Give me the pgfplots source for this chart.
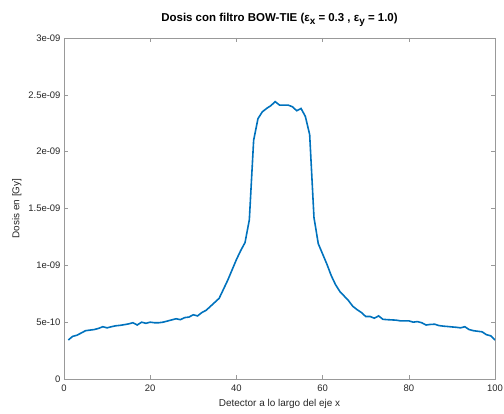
\documentclass[border=0pt]{standalone}
\usepackage{pgfplots}
\pgfplotsset{compat=1.18}
\usepackage{fontspec}
\setmainfont{Liberation Sans}
\definecolor{mblue}{rgb}{0,0.447,0.741}
\definecolor{axgray}{gray}{0.6}
\definecolor{txtgray}{gray}{0.15}

\pgfplotstableread{
x y
1 3.43e-10
2 3.75e-10
3 3.85e-10
4 4.05e-10
5 4.25e-10
6 4.30e-10
7 4.35e-10
8 4.45e-10
9 4.60e-10
10 4.50e-10
11 4.60e-10
12 4.68e-10
13 4.72e-10
14 4.78e-10
15 4.85e-10
16 4.95e-10
17 4.75e-10
18 5.00e-10
19 4.90e-10
20 5.00e-10
21 4.95e-10
22 4.95e-10
23 5.00e-10
24 5.10e-10
25 5.20e-10
26 5.30e-10
27 5.22e-10
28 5.40e-10
29 5.45e-10
30 5.65e-10
31 5.55e-10
32 5.85e-10
33 6.05e-10
34 6.40e-10
35 6.75e-10
36 7.10e-10
37 7.90e-10
38 8.70e-10
39 9.60e-10
40 10.5e-10
41 11.3e-10
42 12.0e-10
43 14.0e-10
44 21.0e-10
45 22.9e-10
46 23.5e-10
47 23.8e-10
48 24.05e-10
49 24.4e-10
50 24.1e-10
51 24.1e-10
52 24.1e-10
53 23.95e-10
54 23.6e-10
55 23.8e-10
56 23.1e-10
57 21.5e-10
58 14.2e-10
59 11.9e-10
60 11.0e-10
61 10.1e-10
62 9.10e-10
63 8.30e-10
64 7.70e-10
65 7.30e-10
66 6.90e-10
67 6.40e-10
68 6.10e-10
69 5.85e-10
70 5.50e-10
71 5.50e-10
72 5.35e-10
73 5.55e-10
74 5.25e-10
75 5.22e-10
76 5.20e-10
77 5.18e-10
78 5.12e-10
79 5.12e-10
80 5.12e-10
81 5.00e-10
82 5.05e-10
83 4.95e-10
84 4.75e-10
85 4.80e-10
86 4.82e-10
87 4.70e-10
88 4.65e-10
89 4.62e-10
90 4.58e-10
91 4.55e-10
92 4.50e-10
93 4.60e-10
94 4.35e-10
95 4.25e-10
96 4.20e-10
97 4.15e-10
98 3.90e-10
99 3.80e-10
100 3.43e-10
}\dosis

\begin{document}
\begin{tikzpicture}
\path[use as bounding box] (-64bp,-35bp) rectangle (440bp,379bp);
\begin{axis}[
    at={(0,0)}, anchor=south west,
    scale only axis,
    width=431bp, height=341bp,
    xmin=0, xmax=100,
    ymin=0, ymax=3e-9,
    xtick={0,20,...,100},
    ytick={0,5e-10,1e-9,1.5e-9,2e-9,2.5e-9,3e-9},
    yticklabels={0,5e-10,1e-09,1.5e-09,2e-09,2.5e-09,3e-09},
    scaled y ticks=false,
    tick pos=both,
    tick align=inside,
    major tick length=4bp,
    axis line style={axgray},
    every tick/.style={axgray},
    tick label style={font=\fontsize{9.5}{11}\selectfont, text=txtgray},
    xticklabel style={yshift=-2bp},
    /pgf/number format/assume math mode=true,
    xlabel={Detector a lo largo del eje x},
    ylabel={Dosis en [Gy]},
    label style={font=\fontsize{10}{12}\selectfont, text=txtgray},
    xlabel style={yshift=-1bp},
    ylabel style={yshift=0bp},
    title={\textbf{Dosis con filtro BOW-TIE (ε\raisebox{-0.45ex}{\fontsize{10}{11}\selectfont x} = 0.3 , ε\raisebox{-0.45ex}{\fontsize{10}{11}\selectfont y} = 1.0)}},
    title style={font=\fontsize{11.5}{13}\selectfont, yshift=2bp},
]
\addplot[mblue, line width=1.6pt] table[x=x, y=y] {\dosis};
\end{axis}
\end{tikzpicture}
\end{document}
